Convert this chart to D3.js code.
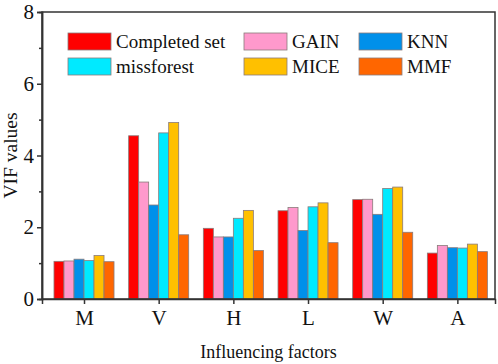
<!DOCTYPE html>
<html>
<head>
<meta charset="utf-8">
<script src="https://cdn.jsdelivr.net/npm/d3@7"></script>
<style>
  body { margin: 0; background: #fff; }
  svg { display: block; }
  text { font-family: "Liberation Serif", "DejaVu Serif", serif; }
</style>
</head>
<body>
<div id="chart"></div>
<script>
// data
let factors = ['M', 'V', 'H', 'L', 'W', 'A'];
let methods = ['Completed set', 'GAIN', 'KNN', 'missforest', 'MICE', 'MMF'];
let colors = ['#ff0000', '#ff99cc', '#0090ea', '#00eaff', '#ffc000', '#ff6600'];

let completedSet = [1.05, 4.55, 1.97, 2.46, 2.77, 1.28];
let gain         = [1.06, 3.26, 1.73, 2.55, 2.78, 1.49];
let knn          = [1.11, 2.62, 1.73, 1.91, 2.36, 1.43];
let missforest   = [1.07, 4.63, 2.25, 2.57, 3.08, 1.42];
let mice         = [1.21, 4.92, 2.47, 2.68, 3.12, 1.53];
let mmf          = [1.04, 1.79, 1.35, 1.57, 1.86, 1.32];

let series = [completedSet, gain, knn, missforest, mice, mmf];
let yTicks = [0, 2, 4, 6, 8];
let yMinorTicks = [1, 3, 5, 7];

let width = 498, height = 364;
let margin = { left: 42, right: 3, top: 12, bottom: 65 };
let serif = '"Liberation Serif", serif';

let svg = d3.select('#chart').append('svg')
    .attr('width', width)
    .attr('height', height);

// x is linear over category index so the first group sits a bit off the left edge
let x = d3.scaleLinear()
    .domain([0.4375, 6.504])
    .range([margin.left, width - margin.right]);
let y = d3.scaleLinear()
    .domain([0, 8])
    .range([height - margin.bottom, margin.top]);

let barW = 0.134;
let groupW = barW * methods.length;

let bars = svg.append('g');
series.forEach(function(vals, j) {
    bars.selectAll('.bar-' + j)
        .data(vals)
        .enter()
        .append('rect')
            .attr('class', 'bar-' + j)
            .attr('x', function(d, i) { return x(i + 1 - groupW / 2 + j * barW); })
            .attr('width', x(barW) - x(0))
            .attr('y', function(d) { return y(d); })
            .attr('height', function(d) { return y(0) - y(d); })
            .attr('fill', colors[j])
            .attr('stroke', '#8a7a7a')
            .attr('stroke-width', 0.8);
});

// frame
svg.append('rect')
    .attr('x', margin.left)
    .attr('y', margin.top)
    .attr('width', width - margin.right - margin.left)
    .attr('height', height - margin.bottom - margin.top)
    .attr('fill', 'none')
    .attr('stroke', '#333')
    .attr('stroke-width', 1.5);

// axes
let xAxis = d3.axisBottom(x)
    .tickValues(d3.range(1, factors.length + 1))
    .tickFormat(function(d) { return factors[d - 1]; })
    .tickSize(5)
    .tickPadding(6);
let xg = svg.append('g')
    .attr('transform', 'translate(0,' + y(0) + ')')
    .call(xAxis);

let yAxis = d3.axisLeft(y)
    .tickValues(yTicks)
    .tickSize(5)
    .tickPadding(3);
let yg = svg.append('g')
    .attr('transform', 'translate(' + margin.left + ',0)')
    .call(yAxis);

let yMinor = d3.axisLeft(y)
    .tickValues(yMinorTicks)
    .tickSize(3)
    .tickFormat('');
let ymg = svg.append('g')
    .attr('transform', 'translate(' + margin.left + ',0)')
    .call(yMinor);

[xg, yg, ymg].forEach(function(g) {
    g.attr('font-family', serif);
    g.select('.domain').attr('stroke', '#333').attr('stroke-width', 1.5);
    g.selectAll('.tick line').attr('stroke', '#333').attr('stroke-width', 1.5);
    g.selectAll('.tick text')
        .attr('fill', '#111')
        .attr('font-size', 21);
});

// axis titles
svg.append('text')
    .attr('x', (margin.left + width - margin.right) / 2)
    .attr('y', 358)
    .attr('text-anchor', 'middle')
    .attr('fill', '#111')
    .attr('font-family', serif)
    .attr('font-size', 18)
    .text('Influencing factors');

svg.append('text')
    .attr('transform', 'translate(17,' + (margin.top + y(0)) / 2 + ') rotate(-90)')
    .attr('text-anchor', 'middle')
    .attr('fill', '#111')
    .attr('font-family', serif)
    .attr('font-size', 19.5)
    .text('VIF values');

// legend: 3 columns x 2 rows
let legendCols = [68, 244, 359];
let legendRows = [33, 58];
let legend = svg.append('g');
methods.forEach(function(m, j) {
    let cx = legendCols[j % 3];
    let cy = legendRows[Math.floor(j / 3)];
    legend.append('rect')
        .attr('x', cx)
        .attr('y', cy)
        .attr('width', 43)
        .attr('height', 17)
        .attr('fill', colors[j])
        .attr('stroke', '#8a7a7a')
        .attr('stroke-width', 0.8);
    legend.append('text')
        .attr('x', cx + 48)
        .attr('y', cy + 15)
        .attr('fill', '#111')
        .attr('font-family', serif)
        .attr('font-size', 19)
        .text(m);
});
</script>
</body>
</html>
